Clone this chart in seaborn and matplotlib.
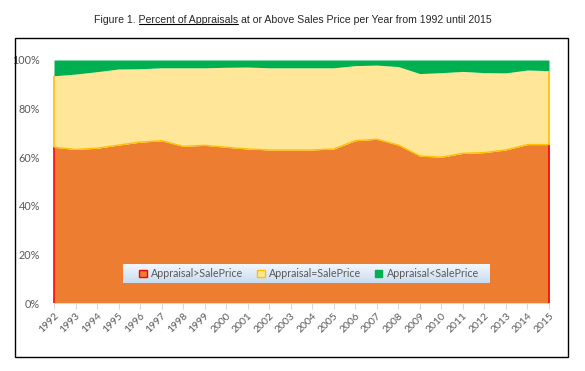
import matplotlib
matplotlib.use("Agg")
import matplotlib.pyplot as plt
from matplotlib.patches import Patch, Rectangle
from matplotlib.lines import Line2D
from matplotlib.ticker import PercentFormatter
import numpy as np
import pandas as pd
import seaborn as sns

# share of appraisals per year, in percent
years = list(range(1992, 2016))
above = [64.1, 63.2, 63.7, 65.0, 66.2, 66.8, 64.5, 64.9, 64.1, 63.4, 63.0, 63.0,
         63.0, 63.4, 66.8, 67.4, 65.0, 60.5, 60.0, 61.6, 61.9, 63.0, 65.2, 65.2]
equal = [29.4, 31.0, 31.5, 31.3, 30.2, 30.0, 32.3, 31.9, 32.9, 33.7, 33.8, 33.8,
         33.8, 33.4, 30.9, 30.5, 32.3, 33.9, 34.8, 33.7, 32.9, 31.7, 30.7, 30.4]
below = [6.5, 5.8, 4.8, 3.7, 3.6, 3.2, 3.2, 3.2, 3.0, 2.9, 3.2, 3.2,
         3.2, 3.2, 2.3, 2.1, 2.7, 5.6, 5.2, 4.7, 5.2, 5.3, 4.1, 4.4]
series_names = ["Appraisal>SalePrice", "Appraisal=SalePrice", "Appraisal<SalePrice"]

df = pd.DataFrame({"year": years, "above": above, "equal": equal, "below": below})
df["top1"] = df["above"]
df["top2"] = df["above"] + df["equal"]

ORANGE, YELLOW, GREEN = "#ED7D31", "#FFE699", "#00B050"
RED, GOLD = "#FF0000", "#FFC000"
GREY = "#595959"

sns.set_style("white")
plt.rcParams["font.family"] = ["Lato", "DejaVu Sans"]

fig = plt.figure(figsize=(5.85, 3.71), dpi=100)
W, H = 585, 371
ax = fig.add_axes([54 / W, 1 - 303 / H, 495 / W, 243 / H])

ax.stackplot(df["year"], df["above"], df["equal"], df["below"],
             colors=[ORANGE, YELLOW, GREEN], lw=0)
# series borders, as the spreadsheet draws them
for x in (years[0], years[-1]):
    t1 = df.loc[df.year == x, "top1"].iloc[0]
    t2 = df.loc[df.year == x, "top2"].iloc[0]
    ax.plot([x, x], [0, t1], color=RED, lw=1.2, solid_capstyle="butt", clip_on=False)
    ax.plot([x, x], [t1, t2], color=GOLD, lw=1.2, solid_capstyle="butt", clip_on=False)
sns.lineplot(data=df, x="year", y="top1", color=GOLD, lw=1.0, ax=ax, legend=False)

ax.set_xlim(years[0], years[-1])
ax.set_ylim(0, 100)
ax.set_xlabel("")
ax.set_ylabel("")
ax.set_xticks(years)
ax.set_xticklabels([str(y) for y in years], rotation=45, ha="right",
                   rotation_mode="anchor", fontsize=7.5, color=GREY)
ax.set_yticks(np.arange(0, 101, 20))
ax.yaxis.set_major_formatter(PercentFormatter(decimals=0))
ax.tick_params(axis="y", length=0, labelsize=7.8, labelcolor=GREY, pad=10)
ax.tick_params(axis="x", length=4, width=0.8, color="#D9D9D9", direction="out",
               bottom=True, pad=2)
for side in ("top", "left", "right"):
    ax.spines[side].set_visible(False)
ax.spines["bottom"].set_color("#D9D9D9")
ax.spines["bottom"].set_linewidth(0.8)

# legend with a light gradient band
gax = fig.add_axes([123 / W, 1 - 283 / H, 367 / W, 19 / H], zorder=3)
grad = np.linspace(0, 1, 64).reshape(-1, 1)
gax.imshow(grad, aspect="auto", cmap=matplotlib.colors.LinearSegmentedColormap.from_list(
    "band", ["#F3F7FC", "#C9DCF0"]), extent=[0, 1, 0, 1], origin="upper")
gax.set_axis_off()
handles = [Patch(facecolor=ORANGE, edgecolor=RED, lw=1.0),
           Patch(facecolor=YELLOW, edgecolor=GOLD, lw=1.0),
           Patch(facecolor=GREEN, edgecolor=GREEN, lw=1.0)]
leg = fig.legend(handles, series_names, ncol=3, loc="center",
                 bbox_to_anchor=(309 / W, 1 - 273.5 / H), frameon=False,
                 fontsize=7.7, handlelength=0.7, handleheight=0.7,
                 handletextpad=0.4, columnspacing=1.3, labelcolor=GREY)
leg.set_zorder(6)

# outer border
fig.patches.append(Rectangle((15 / W, 1 - 357 / H), 553 / W, 319 / H,
                             transform=fig.transFigure, fill=False,
                             edgecolor="black", lw=1.0))

# title with an underlined phrase
tfont = dict(fontsize=7.6, family=["Liberation Sans", "DejaVu Sans"])
full = "Figure 1. Percent of Appraisals at or Above Sales Price per Year from 1992 until 2015"
cx, cy = 293 / W, 1 - 20 / H
title = fig.text(cx, cy, full, ha="center", va="center", **tfont)
fig.canvas.draw()
r = fig.canvas.get_renderer()


def width_of(s):
    t = fig.text(0, 0, s, **tfont)
    w = t.get_window_extent(r).width
    t.remove()
    return w


bb = title.get_window_extent(r)
w2 = width_of("Figure 1. Percent of Appraisals")
wu = width_of("Percent of Appraisals")
x1 = bb.x0 + w2 - wu
x2 = bb.x0 + w2
yline = bb.y0 + 1.5
fig.add_artist(Line2D([x1 / W, x2 / W], [yline / H, yline / H],
                      transform=fig.transFigure, color="black", lw=0.8))

fig.savefig("out.png", dpi=100)
